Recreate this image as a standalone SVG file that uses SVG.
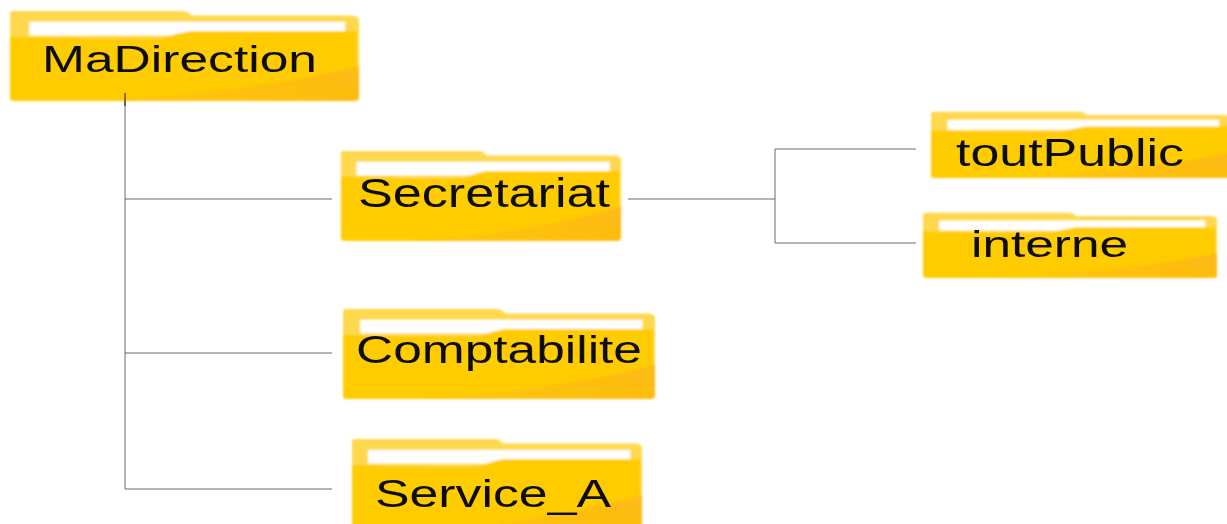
<svg xmlns="http://www.w3.org/2000/svg" width="1227" height="524" viewBox="0 0 1227 524">
<style>
.wire{fill:none;stroke:#444;stroke-width:.8}
.lead{fill:none;stroke:#111;stroke-width:1}
.lbl{font-family:"Liberation Sans",Arial,sans-serif;fill:#111;filter:url(#soft)}
.fld{filter:url(#soft2)}
</style>
<defs>
<filter id="soft" x="-5%" y="-20%" width="110%" height="140%"><feGaussianBlur stdDeviation="0.5"/></filter>
<filter id="soft2" x="-3%" y="-6%" width="106%" height="112%"><feGaussianBlur stdDeviation="0.9"/></filter>
<linearGradient id="shade" x1="0" y1="1" x2="1" y2="0.6"><stop offset="0" stop-color="#ffc805"/><stop offset="1" stop-color="#fdbb12"/></linearGradient>
<symbol id="folder" viewBox="0 0 100 100" preserveAspectRatio="none">
<path d="M1 1H49Q51 1 52 6H98Q100 7 100 11V97Q100 100 98 100H2Q0 100 0 97V3Q0 1 1 1Z" fill="#ffd84d"/>
<path d="M5.500 13H96V28H5.500Z" fill="#fff"/>
<path d="M0 29Q30 32 44 31Q48 25 52 23H99.500V97Q99.500 100 98 100H2Q0 100 0 97Z" fill="#ffcc00"/>
<path d="M25 100Q70 90 100 62V97Q100 100 98 100Z" fill="url(#shade)"/>
</symbol>
</defs>
<rect width="1227" height="524" fill="#fff"/>
<g id="connectors">
<path class="wire" d="M125 100V489H332M125 199H332M125 353H332"/>
<path class="wire" d="M628 199H775M916 149H775V243H916"/>
</g>
<g id="MaDirection"><use class="fld" href="#folder" x="10" y="10" width="349" height="91"/><text class="lbl" x="42" y="72" font-size="37" textLength="275" lengthAdjust="spacingAndGlyphs">MaDirection</text></g>
<path class="lead" d="M125 93V106"/>
<g id="Secretariat"><use class="fld" href="#folder" x="341" y="150" width="280" height="91"/><text class="lbl" x="358" y="207" font-size="40" textLength="252" lengthAdjust="spacingAndGlyphs">Secretariat</text></g>
<g id="Comptabilite"><use class="fld" href="#folder" x="343" y="308" width="312" height="91"/><text class="lbl" x="356" y="363" font-size="38" textLength="286" lengthAdjust="spacingAndGlyphs">Comptabilite</text></g>
<g id="Service_A"><use class="fld" href="#folder" x="352" y="438" width="290" height="92"/><text class="lbl" x="375" y="507" font-size="39" textLength="236" lengthAdjust="spacingAndGlyphs">Service_A</text></g>
<g id="toutPublic"><use class="fld" href="#folder" x="931" y="111" width="300" height="67"/><text class="lbl" x="956" y="166" font-size="38" textLength="228" lengthAdjust="spacingAndGlyphs">toutPublic</text></g>
<g id="interne"><use class="fld" href="#folder" x="923" y="212" width="294" height="66"/><text class="lbl" x="971" y="257" font-size="37" textLength="157" lengthAdjust="spacingAndGlyphs">interne</text></g>
</svg>
